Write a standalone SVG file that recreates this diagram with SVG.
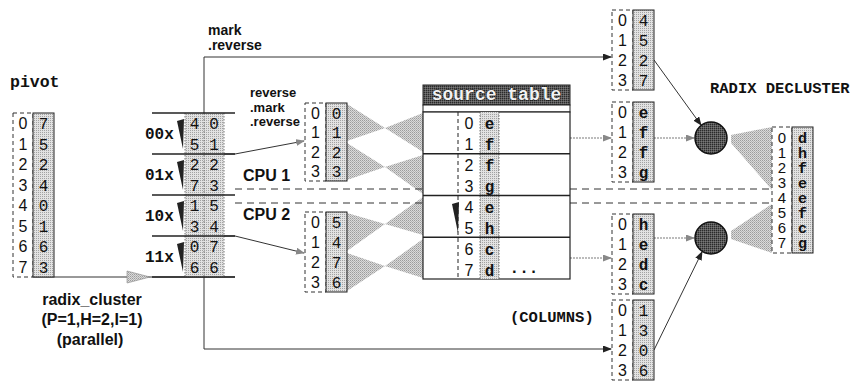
<svg xmlns="http://www.w3.org/2000/svg" width="860" height="385" viewBox="0 0 860 385">
<defs>
<pattern id="ht" width="2" height="2" patternUnits="userSpaceOnUse"><rect width="2" height="2" fill="#e2e2e2"/><rect width="1" height="1" fill="#a2a2a2"/></pattern>
<pattern id="ck" width="2" height="2" patternUnits="userSpaceOnUse"><rect width="2" height="2" fill="#dadada"/><rect width="1" height="1" fill="#9c9c9c"/><rect x="1" y="1" width="1" height="1" fill="#b4b4b4"/></pattern>
<pattern id="dk" width="2" height="2" patternUnits="userSpaceOnUse"><rect width="2" height="2" fill="#5a5a5a"/><rect width="1" height="1" fill="#2a2a2a"/><rect x="1" y="1" width="1" height="1" fill="#777"/></pattern>
<marker id="ab" markerWidth="9" markerHeight="7" refX="8" refY="3.5" orient="auto" markerUnits="userSpaceOnUse"><path d="M0,0 L9,3.5 L0,7 z" fill="#222"/></marker>
<marker id="ag" markerWidth="9" markerHeight="7" refX="8" refY="3.5" orient="auto" markerUnits="userSpaceOnUse"><path d="M0,0 L9,3.5 L0,7 z" fill="#888"/></marker>
</defs>
<style>
.idx{font-family:"Liberation Sans",Arial,sans-serif;font-size:16px;fill:#111;text-anchor:middle}
.val{font-family:"Liberation Mono","Courier New",monospace;font-size:16px;fill:#111;text-anchor:middle}
.let{font-family:"Liberation Mono","Courier New",monospace;font-size:16px;font-weight:bold;fill:#111;text-anchor:middle}
.sm{font-size:15px}
.lbl{font-family:"Liberation Sans",Arial,sans-serif;font-size:14px;font-weight:bold;fill:#111}
.lbs{font-family:"Liberation Sans",Arial,sans-serif;font-size:13px;font-weight:bold;fill:#111}
.big{font-family:"Liberation Sans",Arial,sans-serif;font-size:16px;font-weight:bold;fill:#111}
.mono{font-family:"Liberation Mono","Courier New",monospace;font-size:16px;font-weight:bold;fill:#111}
.dbox{fill:none;stroke:#333;stroke-width:1;stroke-dasharray:4 3}
.vbox{fill:url(#ht);stroke:#222;stroke-width:1}
.cell{stroke:#555;stroke-width:0.8;stroke-dasharray:1.5 1.5}
.fly{fill:url(#ck);stroke:none}
.blk{fill:none;stroke:#333;stroke-width:1}
.gry{fill:none;stroke:#7a7a7a;stroke-width:1.2;stroke-dasharray:2 1}
.dash{fill:none;stroke:#333;stroke-width:1;stroke-dasharray:7 5}
.hl{stroke:#222;stroke-width:1.3}
.wedge{fill:#222}
</style>

<g id="connectors">
  <polygon class="fly" points="347,104 385,128 347,141"/>
  <polygon class="fly" points="385,128 423,113 423,152"/>
  <polygon class="fly" points="347,143 385,167 347,180"/>
  <polygon class="fly" points="385,167 423,155 423,194"/>
  <polygon class="fly" points="347,213 385,224 347,251"/>
  <polygon class="fly" points="385,224 423,197 423,235"/>
  <polygon class="fly" points="347,253 385,266 347,291"/>
  <polygon class="fly" points="385,266 423,239 423,278"/>
  <polygon class="fly" points="731,135 772,127 772,190 731,143"/>
  <polygon class="fly" points="731,231 772,204 772,253 731,239"/>
  <line class="dash" x1="235" y1="189" x2="423" y2="189"/>
  <line class="dash" x1="235" y1="203" x2="423" y2="203"/>
  <line class="dash" x1="570" y1="189" x2="770" y2="189"/>
  <line class="dash" x1="570" y1="203" x2="770" y2="203"/>
  <line class="blk" x1="33" y1="277" x2="235" y2="277"/>
  <polygon fill="url(#ck)" stroke="#888" stroke-width="0.6" points="127,271 150,277 127,283"/>
  <polyline class="blk" points="204,113 204,57 611,57" marker-end="url(#ab)"/>
  <polyline class="blk" points="204,277 204,349 611,349" marker-end="url(#ab)"/>
  <polyline class="blk" points="223,154 235,154 304,141" marker-end="url(#ag)"/>
  <polyline class="blk" points="223,236 235,236 304,253" marker-end="url(#ag)"/>
  <line class="gry" x1="570" y1="138" x2="611" y2="138" marker-end="url(#ag)"/>
  <line class="gry" x1="570" y1="258" x2="611" y2="258" marker-end="url(#ag)"/>
  <line class="gry" x1="654" y1="138" x2="694" y2="138" marker-end="url(#ag)"/>
  <line class="gry" x1="654" y1="238" x2="694" y2="238" marker-end="url(#ag)"/>
  <line class="blk" x1="654" y1="60" x2="701" y2="125" marker-end="url(#ab)"/>
  <line class="blk" x1="654" y1="350" x2="702" y2="252" marker-end="url(#ab)"/>
</g>

<g id="pivot">
  <text class="mono" x="10" y="87" style="font-size:16.5px">pivot</text>
  <rect class="dbox" x="13" y="113" width="20" height="164"/>
  <rect class="vbox" x="33" y="113" width="21" height="164"/>
  <text class="idx" x="23" y="129">0</text><text class="idx" x="23" y="149.5">1</text><text class="idx" x="23" y="170">2</text><text class="idx" x="23" y="190.5">3</text>
  <text class="idx" x="23" y="211">4</text><text class="idx" x="23" y="231.5">5</text><text class="idx" x="23" y="252">6</text><text class="idx" x="23" y="272.5">7</text>
  <text class="val" x="43.5" y="129">7</text><text class="val" x="43.5" y="149.5">5</text><text class="val" x="43.5" y="170">2</text><text class="val" x="43.5" y="190.5">4</text>
  <text class="val" x="43.5" y="211">0</text><text class="val" x="43.5" y="231.5">1</text><text class="val" x="43.5" y="252">6</text><text class="val" x="43.5" y="272.5">3</text>
</g>

<g id="cluster">
  <rect class="vbox" x="185" y="113" width="19" height="164" style="stroke:none"/>
  <rect class="vbox" x="204" y="113" width="20" height="164" style="stroke:none"/>
  <line class="cell" x1="185" y1="113" x2="185" y2="277"/>
  <line class="cell" x1="204" y1="113" x2="204" y2="277"/>
  <line class="cell" x1="224" y1="113" x2="224" y2="277"/>
  <line class="hl" x1="152" y1="113" x2="235" y2="113"/>
  <line class="hl" x1="152" y1="154" x2="235" y2="154"/>
  <line class="hl" x1="152" y1="195" x2="235" y2="195"/>
  <line class="hl" x1="152" y1="236" x2="235" y2="236"/>
  <line class="hl" x1="152" y1="277" x2="235" y2="277"/>
  <text class="mono" x="145" y="139">00x</text>
  <text class="mono" x="145" y="180">01x</text>
  <text class="mono" x="145" y="221">10x</text>
  <text class="mono" x="145" y="262">11x</text>
  <polygon class="wedge" points="177,121 184,119 183,149"/>
  <polygon class="wedge" points="177,162 184,160 183,190"/>
  <polygon class="wedge" points="177,203 184,201 183,231"/>
  <polygon class="wedge" points="177,244 184,242 183,272"/>
  <text class="val" x="194.5" y="129">4</text><text class="val" x="194.5" y="149.5">5</text><text class="val" x="194.5" y="170">2</text><text class="val" x="194.5" y="190.5">7</text>
  <text class="val" x="194.5" y="211">1</text><text class="val" x="194.5" y="231.5">3</text><text class="val" x="194.5" y="252">0</text><text class="val" x="194.5" y="272.5">6</text>
  <text class="val" x="214" y="129">0</text><text class="val" x="214" y="149.5">1</text><text class="val" x="214" y="170">2</text><text class="val" x="214" y="190.5">3</text>
  <text class="val" x="214" y="211">5</text><text class="val" x="214" y="231.5">4</text><text class="val" x="214" y="252">7</text><text class="val" x="214" y="272.5">6</text>
</g>

<g id="labels">
  <text class="lbl" x="208" y="35">mark</text>
  <text class="lbl" x="208" y="50">.reverse</text>
  <text class="lbs" x="250" y="97">reverse</text>
  <text class="lbs" x="250" y="111.5">.mark</text>
  <text class="lbs" x="250" y="126">.reverse</text>
  <text class="big" x="243" y="181">CPU 1</text>
  <text class="big" x="243" y="220">CPU 2</text>
  <text class="big" x="92" y="305" text-anchor="middle">radix_cluster</text>
  <text class="big" x="92" y="325" text-anchor="middle">(P=1,H=2,I=1)</text>
  <text class="big" x="90" y="345" text-anchor="middle">(parallel)</text>
  <text class="mono" x="710" y="93" style="font-size:15.5px">RADIX DECLUSTER</text>
  <text class="mono" x="510" y="322" style="font-size:15.5px">(COLUMNS)</text>
</g>

<g id="cpu1-input">
  <rect class="dbox" x="305" y="103" width="21" height="78"/>
  <rect class="vbox" x="326" y="103" width="21" height="78"/>
  <text class="idx" x="315.5" y="118.5">0</text><text class="idx" x="315.5" y="138">1</text><text class="idx" x="315.5" y="157.5">2</text><text class="idx" x="315.5" y="177">3</text>
  <text class="val" x="336.5" y="118.5">0</text><text class="val" x="336.5" y="138">1</text><text class="val" x="336.5" y="157.5">2</text><text class="val" x="336.5" y="177">3</text>
</g>

<g id="cpu2-input">
  <rect class="dbox" x="305" y="212" width="21" height="80"/>
  <rect class="vbox" x="326" y="212" width="21" height="80"/>
  <text class="idx" x="315.5" y="227.7">0</text><text class="idx" x="315.5" y="247.7">1</text><text class="idx" x="315.5" y="267.7">2</text><text class="idx" x="315.5" y="287.7">3</text>
  <text class="val" x="336.5" y="227.7">5</text><text class="val" x="336.5" y="247.7">4</text><text class="val" x="336.5" y="267.7">7</text><text class="val" x="336.5" y="287.7">6</text>
</g>

<g id="source-table">
  <rect x="423" y="85" width="147" height="20" fill="url(#dk)" stroke="#222" stroke-width="1"/>
  <text x="496.5" y="100" text-anchor="middle" style="font-family:'Liberation Mono','Courier New',monospace;font-size:18px;font-weight:bold;fill:#f2f2f2;stroke:#111;stroke-width:0.8;paint-order:stroke">source table</text>
  <rect x="423" y="105" width="147" height="7" fill="#fff" stroke="#222" stroke-width="1"/>
  <rect x="423" y="112" width="147" height="167" fill="#fff" stroke="#222" stroke-width="1.2"/>
  <rect class="vbox" x="480" y="112" width="19" height="167" style="stroke:none"/>
  <line class="cell" x1="480" y1="112" x2="480" y2="279"/>
  <line class="cell" x1="499" y1="112" x2="499" y2="279"/>
  <line x1="458" y1="112" x2="458" y2="279" stroke="#222" stroke-width="1" stroke-dasharray="4 3"/>
  <line class="hl" x1="423" y1="153.75" x2="570" y2="153.75"/>
  <line class="hl" x1="423" y1="195.5" x2="570" y2="195.5"/>
  <line class="hl" x1="423" y1="237.25" x2="570" y2="237.25"/>
  <polygon class="wedge" points="452,204 459,202 458,233"/>
  <text class="idx" x="469" y="129">0</text><text class="idx" x="469" y="150">1</text><text class="idx" x="469" y="171">2</text><text class="idx" x="469" y="192">3</text>
  <text class="idx" x="469" y="213">4</text><text class="idx" x="469" y="233.5">5</text><text class="idx" x="469" y="254.5">6</text><text class="idx" x="469" y="275.5">7</text>
  <text class="let" x="489.5" y="129">e</text><text class="let" x="489.5" y="150">f</text><text class="let" x="489.5" y="171">f</text><text class="let" x="489.5" y="192">g</text>
  <text class="let" x="489.5" y="213">e</text><text class="let" x="489.5" y="233.5">h</text><text class="let" x="489.5" y="254.5">c</text><text class="let" x="489.5" y="275.5">d</text>
  <text class="let" x="524" y="273">...</text>
</g>

<g id="out-mark">
  <rect class="dbox" x="612" y="10" width="21" height="80"/>
  <rect class="vbox" x="633" y="10" width="21" height="80"/>
  <text class="idx" x="622.5" y="25.7">0</text><text class="idx" x="622.5" y="45.7">1</text><text class="idx" x="622.5" y="65.7">2</text><text class="idx" x="622.5" y="85.7">3</text>
  <text class="val" x="643.5" y="25.7">4</text><text class="val" x="643.5" y="45.7">5</text><text class="val" x="643.5" y="65.7">2</text><text class="val" x="643.5" y="85.7">7</text>
</g>

<g id="out-cpu1">
  <rect class="dbox" x="612" y="102" width="21" height="80"/>
  <rect class="vbox" x="633" y="102" width="21" height="80"/>
  <text class="idx" x="622.5" y="117.7">0</text><text class="idx" x="622.5" y="137.7">1</text><text class="idx" x="622.5" y="157.7">2</text><text class="idx" x="622.5" y="177.7">3</text>
  <text class="let" x="643.5" y="117.7">e</text><text class="let" x="643.5" y="137.7">f</text><text class="let" x="643.5" y="157.7">f</text><text class="let" x="643.5" y="177.7">g</text>
</g>

<g id="out-cpu2">
  <rect class="dbox" x="612" y="214" width="21" height="80"/>
  <rect class="vbox" x="633" y="214" width="21" height="80"/>
  <text class="idx" x="622.5" y="229.7">0</text><text class="idx" x="622.5" y="249.7">1</text><text class="idx" x="622.5" y="269.7">2</text><text class="idx" x="622.5" y="289.7">3</text>
  <text class="let" x="643.5" y="229.7">h</text><text class="let" x="643.5" y="249.7">e</text><text class="let" x="643.5" y="269.7">d</text><text class="let" x="643.5" y="289.7">c</text>
</g>

<g id="out-cluster">
  <rect class="dbox" x="612" y="300" width="21" height="80"/>
  <rect class="vbox" x="633" y="300" width="21" height="80"/>
  <text class="idx" x="622.5" y="315.7">0</text><text class="idx" x="622.5" y="335.7">1</text><text class="idx" x="622.5" y="355.7">2</text><text class="idx" x="622.5" y="375.7">3</text>
  <text class="val" x="643.5" y="315.7">1</text><text class="val" x="643.5" y="335.7">3</text><text class="val" x="643.5" y="355.7">0</text><text class="val" x="643.5" y="375.7">6</text>
</g>

<g id="merge1"><circle cx="711" cy="138" r="16" fill="url(#dk)" stroke="#111" stroke-width="1.5"/></g>
<g id="merge2"><circle cx="711" cy="238" r="16" fill="url(#dk)" stroke="#111" stroke-width="1.5"/></g>

<g id="decluster">
  <rect class="dbox" x="772" y="127" width="20" height="126"/>
  <rect class="vbox" x="792" y="127" width="21" height="126"/>
  <text class="idx sm" x="782" y="142.8">0</text><text class="idx sm" x="782" y="157.8">1</text><text class="idx sm" x="782" y="172.8">2</text><text class="idx sm" x="782" y="187.8">3</text>
  <text class="idx sm" x="782" y="202.8">4</text><text class="idx sm" x="782" y="217.8">5</text><text class="idx sm" x="782" y="232.8">6</text><text class="idx sm" x="782" y="247.8">7</text>
  <text class="let sm" x="802.5" y="142.8">d</text><text class="let sm" x="802.5" y="157.8">h</text><text class="let sm" x="802.5" y="172.8">f</text><text class="let sm" x="802.5" y="187.8">e</text>
  <text class="let sm" x="802.5" y="202.8">e</text><text class="let sm" x="802.5" y="217.8">f</text><text class="let sm" x="802.5" y="232.8">c</text><text class="let sm" x="802.5" y="247.8">g</text>
</g>
</svg>
